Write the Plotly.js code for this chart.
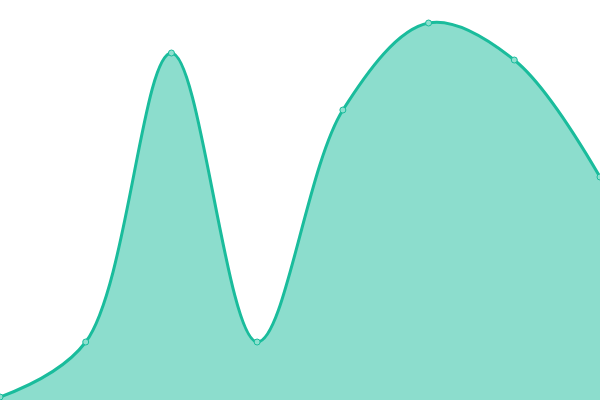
<!DOCTYPE html>
<html>
<head>
<meta charset="utf-8">
<script src="https://cdn.plot.ly/plotly-3.0.1.min.js"></script>
<style>
html, body {margin:0; padding:0; background:#fff;}
#chart {width:600px; height:400px;}
</style>
</head>
<body>
<div id="chart"></div>
<script>
var xs = [0, 1, 2, 3, 4, 5, 6, 7];
var values = [3, 58, 347, 58, 290, 377, 340, 223];

var trace = {
    x: xs,
    y: values,
    type: 'scatter',
    mode: 'lines+markers',
    fill: 'tozeroy',
    fillcolor: 'rgba(26,188,156,0.5)',
    line: {color: '#1abc9c', width: 3, shape: 'spline', smoothing: 1},
    marker: {size: 6, color: '#8ee0cf', line: {color: '#1abc9c', width: 1}},
    cliponaxis: false
};

var layout = {
    width: 600,
    height: 400,
    margin: {l: 0, r: 0, t: 0, b: 0},
    paper_bgcolor: '#fff',
    plot_bgcolor: '#fff',
    showlegend: false,
    xaxis: {range: [0, 7], visible: false, fixedrange: true},
    yaxis: {range: [0, 400], visible: false, fixedrange: true}
};

Plotly.newPlot('chart', [trace], layout, {displayModeBar: false, staticPlot: true});
</script>
</body>
</html>
